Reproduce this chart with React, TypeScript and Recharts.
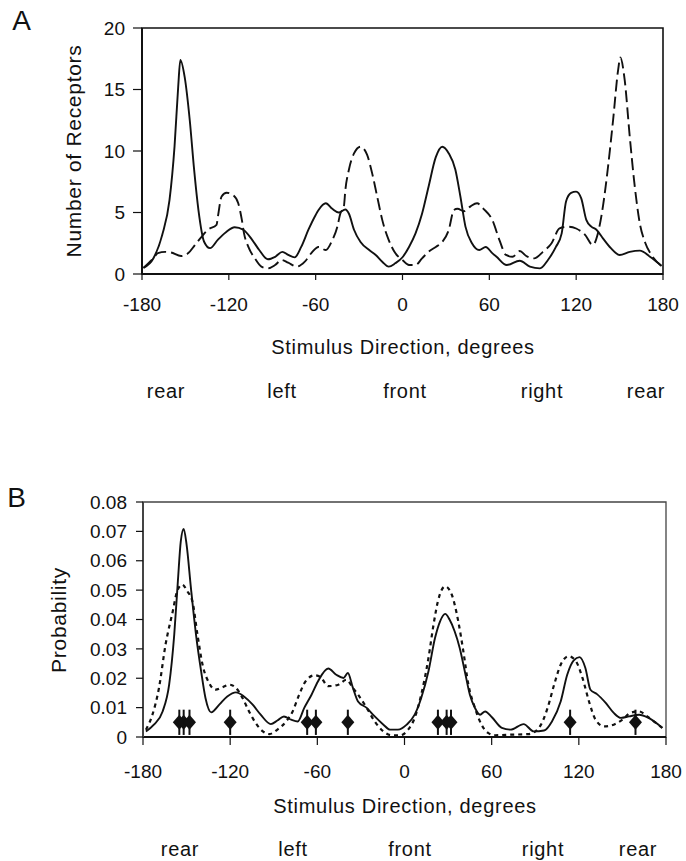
import { LineChart, ComposedChart, Line, Scatter, ErrorBar, XAxis, YAxis, ReferenceArea } from "recharts"

const FONT = '"Liberation Sans", Arial, sans-serif'
const INK = "#111"

const degTicks = [-180, -120, -60, 0, 60, 120, 180]
const receptorTicks = [0, 5, 10, 15, 20]
const probTicks = [0, 0.01, 0.02, 0.03, 0.04, 0.05, 0.06, 0.07, 0.08]
const directions = ["rear", "left", "front", "right", "rear"]

// panel A, receptor counts per direction [deg, count]
const receptorsSolid = [
  [-179, 0.5], [-172, 1.3], [-166, 3.2], [-161, 6.0], [-157.5, 10.4], [-155, 15.2], [-153.5, 17.4],
  [-150.5, 16.0], [-147, 12.5], [-144, 8.5], [-141, 5.2], [-137, 2.6], [-133, 2.1], [-127.5, 2.8],
  [-122, 3.4], [-116, 3.8], [-110, 3.6], [-104, 2.8], [-99, 1.95], [-93, 1.2], [-88, 1.4], [-83, 1.8],
  [-79, 1.55], [-74.5, 1.35], [-70, 2.2], [-65, 3.6], [-60, 4.8], [-58, 5.2], [-53, 5.75], [-48.5, 5.3],
  [-44, 5.0], [-39.5, 5.25], [-37, 4.9], [-33.5, 3.6], [-29, 2.6], [-23, 1.95], [-18.5, 1.55], [-14, 1.0],
  [-9.5, 0.6], [-5, 0.87], [0, 1.36], [4.5, 2.2], [9, 3.3], [13.5, 4.9], [18, 7.1], [23, 9.5], [27.5, 10.35],
  [32, 9.8], [36.5, 8.5], [40, 6.3], [43.5, 3.85], [48, 2.5], [53, 1.95], [57.5, 2.2], [62, 1.7], [65, 1.4],
  [72, 0.73], [81, 1.08], [88, 0.6], [95, 0.46], [100.5, 1.14], [106, 2.2], [110, 3.3], [113, 5.9],
  [116.5, 6.6], [120, 6.7], [123.5, 6.15], [127, 4.4], [130.5, 3.85], [134, 3.6], [138.5, 2.9], [144, 2.1],
  [150, 1.55], [157, 1.8], [164, 1.9], [171, 1.4], [179, 0.65],
]
const receptorsDashed = [
  [-179, 0.5], [-172, 1.3], [-169, 1.7], [-164, 1.8], [-160, 1.75], [-153, 1.46], [-148, 1.7], [-143.5, 2.35],
  [-139, 3.0], [-134.5, 3.6], [-128.5, 4.0], [-127.5, 4.7], [-125, 6.3], [-121.5, 6.6], [-117, 6.4],
  [-113.5, 5.75], [-111, 4.4], [-109.5, 3.3], [-106.5, 2.2], [-102, 1.27], [-97.5, 0.6], [-93, 0.46],
  [-88, 0.73], [-83.5, 1.14], [-79, 0.92], [-73, 0.6], [-67.5, 1.0], [-63, 1.7], [-58, 2.2], [-53, 1.95],
  [-48.5, 2.76], [-45, 3.85], [-43, 4.9], [-40.5, 5.5], [-39.5, 6.8], [-37, 8.5], [-33.5, 9.8], [-29, 10.35],
  [-24.5, 9.7], [-21, 8.2], [-17.5, 6.3], [-14, 4.4], [-9.5, 2.76], [-5, 1.7], [0, 1.14], [4.5, 0.73],
  [9, 0.73], [13.5, 1.27], [18, 1.8], [23, 2.2], [27.5, 2.6], [32, 3.6], [35.5, 5.2], [38, 5.3], [42.5, 5.1],
  [47, 5.5], [51.5, 5.75], [56, 5.3], [62, 4.4], [67, 2.76], [71.5, 1.55], [76, 1.4], [81, 1.87], [85.5, 1.46],
  [91, 1.27], [97, 1.8], [103, 2.5], [108.5, 3.7], [114.5, 3.85], [120, 3.7], [126, 3.2], [131.5, 2.36],
  [135, 3.3], [138.5, 5.5], [142, 8.7], [145.5, 12.5], [149, 16.6], [150.5, 17.6], [153.5, 15.8], [157, 11.2],
  [160.5, 7.1], [164, 4.1], [167.5, 2.6], [172, 1.55], [179, 0.65],
]

// panel B, probability per direction [deg, p]
const probSolid = [
  [-178, 0.0019], [-172.5, 0.0042], [-166.5, 0.0087], [-162, 0.0178], [-158.5, 0.0348], [-156, 0.053],
  [-154, 0.0666], [-152, 0.0708], [-150, 0.0655], [-147, 0.0507], [-143.5, 0.0348], [-140, 0.0224],
  [-137, 0.0133], [-133, 0.0084], [-127.5, 0.011], [-122, 0.0138], [-116, 0.0152], [-110.5, 0.0138],
  [-104.5, 0.011], [-99, 0.0076], [-92, 0.0044], [-87.5, 0.0056], [-83, 0.007], [-78, 0.0059],
  [-73.5, 0.0053], [-69, 0.0099], [-64, 0.0144], [-59.5, 0.019], [-52.5, 0.0233], [-47, 0.0212],
  [-42, 0.0201], [-39, 0.0218], [-35.5, 0.0167], [-32, 0.0121], [-26, 0.0099], [-20.5, 0.007],
  [-14.5, 0.0042], [-10, 0.0025], [-4.5, 0.0025], [1.5, 0.0042], [7, 0.0076], [11.5, 0.0133],
  [16.5, 0.0224], [21, 0.0337], [24.5, 0.0394], [28, 0.0419], [31, 0.04], [34.5, 0.036], [38, 0.0303],
  [41.5, 0.0224], [45, 0.0144], [48.5, 0.0099], [52, 0.0076], [55.5, 0.0087], [60, 0.0068], [67, 0.0031],
  [73, 0.0025], [82, 0.0044], [89, 0.0019], [96, 0.0022], [101.5, 0.0053], [107.5, 0.0121], [112, 0.0212],
  [116.5, 0.0261], [120.5, 0.0272], [124.5, 0.0235], [128, 0.0161], [132.5, 0.0146], [138.5, 0.0116],
  [144, 0.0082], [149, 0.0065], [154.5, 0.007], [161.5, 0.0076], [168, 0.0065], [177.5, 0.0031],
]
const probDotted = [
  [-178, 0.0025], [-173.5, 0.0076], [-169, 0.0167], [-164.5, 0.0314], [-159.5, 0.0428], [-156.5, 0.0496],
  [-153, 0.0519], [-149.5, 0.0496], [-146, 0.0462], [-142.5, 0.0348], [-139, 0.0246], [-134.5, 0.0184],
  [-130, 0.0161], [-125.5, 0.0169], [-120.5, 0.0178], [-116, 0.0167], [-111.5, 0.0133], [-107, 0.0087],
  [-102.5, 0.0048], [-97.5, 0.0019], [-93, 0.001], [-87.5, 0.0025], [-81.5, 0.0053], [-77, 0.0087],
  [-72.5, 0.0144], [-68, 0.019], [-62, 0.021], [-58, 0.0205], [-52.5, 0.0173], [-45.5, 0.0178], [-40, 0.0195],
  [-35.5, 0.0167], [-32, 0.0144], [-26, 0.0099], [-20.5, 0.0053], [-14.5, 0.0019], [-9, 0.0006], [-3, 0.0006],
  [2.5, 0.0025], [7, 0.0065], [11.5, 0.0144], [16.5, 0.0269], [20, 0.0383], [23, 0.0462], [28, 0.0513],
  [32.5, 0.0485], [37, 0.0394], [40.5, 0.0292], [44, 0.0178], [48.5, 0.0099], [53, 0.0042], [57.5, 0.0014],
  [62.5, 0.0006], [74, 0.0008], [85.5, 0.001], [92.5, 0.0031], [98.5, 0.0099], [103, 0.0178], [107.5, 0.0246],
  [113, 0.0275], [118, 0.0258], [122.5, 0.0201], [127, 0.0121], [131.5, 0.0059], [137.5, 0.0036],
  [144, 0.0042], [150, 0.0059], [155.5, 0.0082], [161.5, 0.0087], [167, 0.007], [173, 0.0048], [177.5, 0.0031],
]

// stimulus directions marked along the bottom of panel B
const markerDirs = [-155, -152, -148, -120, -67, -61, -39, 23, 29, 32, 114, 159]
const markerLevel = 0.005
const markerSpread = 0.0043

const toPts = (arr: number[][]) => arr.map(([d, v]) => ({ d, v }))
const markers = markerDirs.map((d) => ({ d, v: markerLevel, err: markerSpread }))

const tickStyle = { fill: INK, fontSize: 19, fontFamily: FONT }

function Txt({ x, y, size = 19, rotate = false, children }: any) {
  return (
    <div
      style={{
        position: "absolute",
        left: x,
        top: y,
        transform: `translate(-50%, -50%)${rotate ? " rotate(-90deg)" : ""}`,
        fontSize: size,
        lineHeight: 1,
        whiteSpace: "nowrap",
        letterSpacing: 0.7,
        color: INK,
      }}
    >
      {children}
    </div>
  )
}

const Diamond = (p: any) => (
  <polygon
    points={`${p.cx},${p.cy - 7.5} ${p.cx + 6.5},${p.cy} ${p.cx},${p.cy + 7.5} ${p.cx - 6.5},${p.cy}`}
    fill={INK}
  />
)

export default function App() {
  const rowA = [166, 282, 405, 542, 646]
  const rowB = [180, 293, 410, 543, 638]
  return (
    <div style={{ position: "absolute", left: 0, top: 0, width: 686, height: 861, background: "#fff", fontFamily: FONT }}>
      <div style={{ position: "absolute", left: 0, top: 0 }}>
        <LineChart width={686} height={330} margin={{ top: 28, right: 23, bottom: 0, left: 0 }}>
          <XAxis
            dataKey="d"
            type="number"
            domain={[-180, 180]}
            ticks={degTicks}
            height={56}
            tick={tickStyle}
            tickSize={6}
            tickMargin={18}
            axisLine={{ stroke: INK, strokeWidth: 2 }}
            tickLine={{ stroke: INK, strokeWidth: 1.2 }}
          />
          <YAxis
            type="number"
            domain={[0, 20]}
            ticks={receptorTicks}
            width={142}
            tick={tickStyle}
            tickSize={9}
            tickMargin={8}
            axisLine={{ stroke: INK, strokeWidth: 2 }}
            tickLine={{ stroke: INK, strokeWidth: 1.2 }}
          />
          <ReferenceArea x1={-180} x2={180} y1={0} y2={20} fill="none" stroke={INK} strokeWidth={1.6} ifOverflow="visible" />
          <Line data={toPts(receptorsSolid)} dataKey="v" type="monotone" stroke={INK} strokeWidth={1.9} dot={false} isAnimationActive={false} />
          <Line data={toPts(receptorsDashed)} dataKey="v" type="monotone" stroke={INK} strokeWidth={1.9} strokeDasharray="12 5" dot={false} isAnimationActive={false} />
        </LineChart>
      </div>

      <div style={{ position: "absolute", left: 0, top: 470 }}>
        <ComposedChart width={686} height={330} margin={{ top: 32, right: 20, bottom: 0, left: 0 }}>
          <XAxis
            dataKey="d"
            type="number"
            domain={[-180, 180]}
            ticks={degTicks}
            height={63}
            tick={tickStyle}
            tickSize={8}
            tickMargin={20}
            axisLine={{ stroke: INK, strokeWidth: 2 }}
            tickLine={{ stroke: INK, strokeWidth: 1.2 }}
          />
          <YAxis
            type="number"
            domain={[0, 0.08]}
            ticks={probTicks}
            width={143}
            tick={tickStyle}
            tickSize={7}
            tickMargin={9}
            tickFormatter={(v: number) => (v === 0 ? "0" : v.toFixed(2))}
            axisLine={{ stroke: "#444", strokeWidth: 2 }}
            tickLine={{ stroke: INK, strokeWidth: 1.2 }}
          />
          <ReferenceArea x1={-180} x2={180} y1={0} y2={0.08} fill="none" stroke="#444" strokeWidth={1.3} ifOverflow="visible" />
          <Line data={toPts(probDotted)} dataKey="v" type="monotone" stroke={INK} strokeWidth={2.2} strokeDasharray="4 4" dot={false} isAnimationActive={false} />
          <Line data={toPts(probSolid)} dataKey="v" type="monotone" stroke={INK} strokeWidth={1.9} dot={false} isAnimationActive={false} />
          <Scatter data={markers} dataKey="v" shape={Diamond} isAnimationActive={false}>
            <ErrorBar dataKey="err" direction="y" width={0} stroke={INK} strokeWidth={2} />
          </Scatter>
        </ComposedChart>
      </div>

      <Txt x={22} y={21} size={28}>A</Txt>
      <Txt x={17} y={498} size={28}>B</Txt>
      <Txt x={73} y={151} size={21} rotate>Number of Receptors</Txt>
      <Txt x={58} y={620} size={21} rotate>Probability</Txt>
      <Txt x={403} y={347} size={20}>Stimulus Direction, degrees</Txt>
      <Txt x={405} y={806} size={20}>Stimulus Direction, degrees</Txt>
      {directions.map((w, i) => (
        <Txt key={"a" + i} x={rowA[i]} y={391} size={20}>{w}</Txt>
      ))}
      {directions.map((w, i) => (
        <Txt key={"b" + i} x={rowB[i]} y={849} size={20}>{w}</Txt>
      ))}
    </div>
  )
}
